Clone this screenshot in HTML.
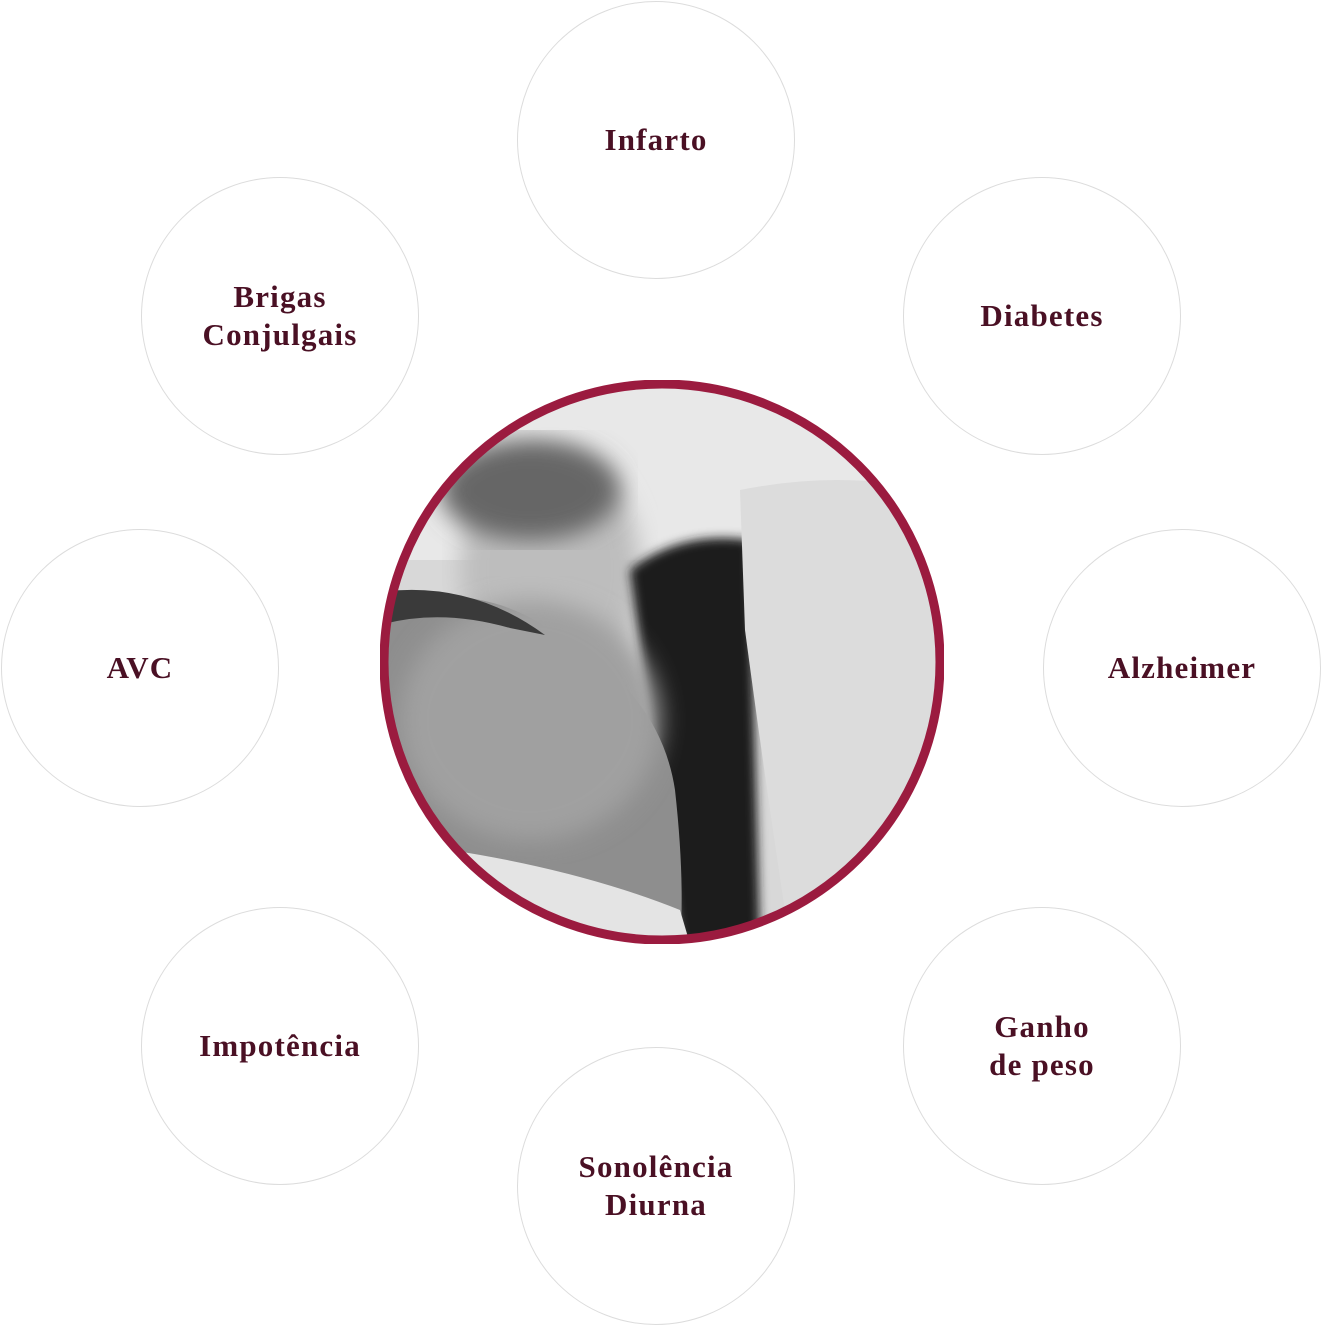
<!DOCTYPE html>
<html><head><meta charset="utf-8"><style>
html,body{margin:0;padding:0;background:#fff;}
body{width:1322px;height:1326px;position:relative;overflow:hidden;font-family:"Liberation Serif",serif;}
.c{position:absolute;width:278px;height:278px;border:1.5px solid #dcdcdc;border-radius:50%;box-sizing:border-box;display:flex;align-items:center;justify-content:center;text-align:center;color:#4a1024;font-size:31px;font-weight:bold;line-height:38px;letter-spacing:1.2px;}
</style></head><body>
<div class="c" style="left:517px;top:1px">Infarto</div>
<div class="c" style="left:903px;top:177px">Diabetes</div>
<div class="c" style="left:1043px;top:529px">Alzheimer</div>
<div class="c" style="left:903px;top:907px">Ganho<br>de peso</div>
<div class="c" style="left:517px;top:1047px">Sonolência<br>Diurna</div>
<div class="c" style="left:141px;top:907px">Impotência</div>
<div class="c" style="left:1px;top:529px">AVC</div>
<div class="c" style="left:141px;top:177px">Brigas<br>Conjulgais</div>
<svg style="position:absolute;left:380px;top:380px" width="564" height="564" viewBox="0 0 564 564">
<defs><clipPath id="k"><circle cx="282" cy="282" r="278"/></clipPath>
<filter id="b"><feGaussianBlur stdDeviation="12"/></filter>
<filter id="b2"><feGaussianBlur stdDeviation="5"/></filter></defs>
<g clip-path="url(#k)">
<rect width="564" height="564" fill="#d8d8d8"/>
<rect x="0" y="0" width="564" height="180" fill="#e8e8e8"/>
<ellipse cx="170" cy="190" rx="90" ry="120" fill="#bdbdbd" filter="url(#b)"/>
<ellipse cx="150" cy="110" rx="90" ry="50" fill="#666" filter="url(#b)"/>
<path d="M250 190 Q300 150 370 160 L380 564 L300 564 Z" fill="#1e1e1e" filter="url(#b2)"/>
<path d="M360 110 Q460 90 550 110 L564 564 L410 564 Q385 400 365 250 Z" fill="#dcdcdc"/>
<path d="M0 225 Q100 200 170 250 Q280 310 295 410 Q305 500 300 564 L0 564 Z" fill="#8e8e8e"/>
<ellipse cx="150" cy="340" rx="130" ry="120" fill="#a0a0a0" filter="url(#b)"/>
<path d="M0 212 Q90 200 165 255 L130 248 Q60 228 0 245 Z" fill="#3a3a3a"/>
<path d="M70 470 Q200 490 300 530 L310 564 L70 564 Z" fill="#e4e4e4"/>
</g>
<circle cx="282" cy="282" r="278" fill="none" stroke="#9b1b3f" stroke-width="9"/>
</svg>
</body></html>
